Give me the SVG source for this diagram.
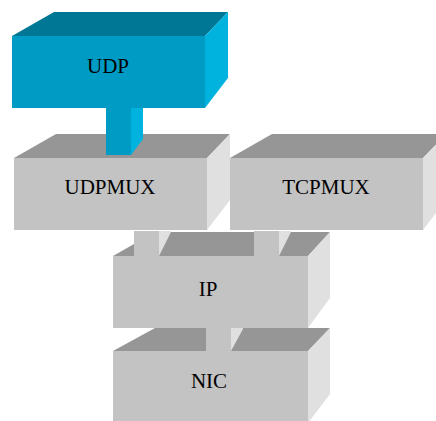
<svg xmlns="http://www.w3.org/2000/svg" width="436" height="421" viewBox="0 0 436 421">
<style>
.fb{fill:#009BC4}.tb{fill:#007895}.rb{fill:#00B3DE}
.fg{fill:#C3C3C3}.tg{fill:#969696}.rg{fill:#E0E0E0}
text{font-family:"Liberation Serif","Times New Roman",serif;font-size:21px;fill:#000;text-anchor:middle}
</style>
<rect width="436" height="421" fill="#fff"/>
<g id="NIC">
<polygon class="tg" points="113,351 155,328 330,328 308,351"/>
<polygon class="rg" points="308,351 330,328 330,394 308,423"/>
<rect class="fg" x="113" y="351" width="195" height="72"/>
<text x="209" y="388">NIC</text>
</g>
<g id="IP">
<polygon class="tg" points="113,256 155,232 330,232 308,256"/>
<polygon class="rg" points="308,256 330,232 330,298 308,328"/>
<rect class="fg" x="113" y="256" width="195" height="72"/>
<text x="208" y="296">IP</text>
</g>
<g id="UDPMUX">
<polygon class="tg" points="14,158 56,134 230,134 207,158"/>
<polygon class="rg" points="207,158 230,134 230,200 207,230"/>
<rect class="fg" x="14" y="158" width="193" height="72"/>
<text x="110" y="194">UDPMUX</text>
</g>
<g id="TCPMUX">
<polygon class="tg" points="230,158 272,134 446,134 423,158"/>
<polygon class="rg" points="423,158 446,134 446,200 423,230"/>
<rect class="fg" x="230" y="158" width="193" height="72"/>
<text x="326" y="194">TCPMUX</text>
</g>
<g id="UDP">
<polygon class="tb" points="12,36 54,12 228,12 205,36"/>
<polygon class="rb" points="205,36 228,12 228,78 205,108"/>
<rect class="fb" x="12" y="36" width="193" height="72"/>
<text x="108" y="73">UDP</text>
</g>
<g id="connectors">
<g id="udp-udpmux">
<rect class="fb" x="106" y="108" width="25" height="47"/>
<polygon class="rb" points="131,108 143,108 143,139 131,155"/>
</g>
<g id="udpmux-ip">
<rect class="fg" x="134" y="231" width="25" height="25"/>
<polygon class="rg" points="159,231 171,231 171,232 159,256"/>
</g>
<g id="tcpmux-ip">
<rect class="fg" x="254" y="231" width="25" height="25"/>
<polygon class="rg" points="279,231 291,231 291,232 279,256"/>
</g>
<g id="ip-nic">
<rect class="fg" x="206" y="328" width="25" height="23"/>
<polygon class="rg" points="231,328 243,328 243,329 231,351"/>
</g>
</g>
</svg>
